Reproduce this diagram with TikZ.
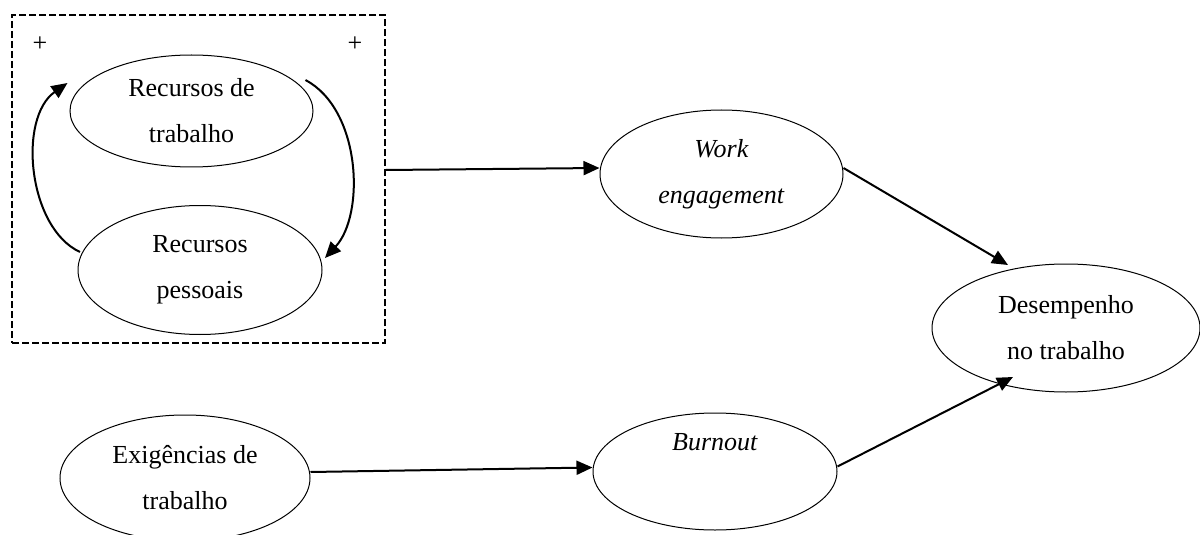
\documentclass[tikz,border=0pt]{standalone}
\usepackage{fontspec}
\setmainfont{Liberation Serif}
\usetikzlibrary{shapes.geometric,arrows.meta,calc}

\tikzset{
  blob/.style={ellipse, draw, line width=0.5pt, inner sep=0pt, align=center,
               font=\fontsize{13}{23}\selectfont},
  arr/.style={line width=1pt, -{Triangle[length=8pt,width=7pt]}},
  groupbox/.style={draw, line width=0.9pt, dash pattern=on 3.5pt off 1.5pt,
                   minimum width=186.5pt, minimum height=164pt, inner sep=0pt},
  sign/.style={font=\fontsize{13}{15}\selectfont, inner sep=0pt}
}

\begin{document}
\begin{tikzpicture}[x=0.5pt, y=-0.5pt]
  \useasboundingbox (0,0) rectangle (1200,535);

  % resources group
  \node[groupbox] (grp) at (198.5,179) {};
  \node[sign] (plusL) at (40,44) {+};
  \node[sign] (plusR) at (355,44) {+};

  \node[blob, minimum width=121.5pt, minimum height=56pt] (rt) at (191.5,111)
    {Recursos de\\trabalho};
  \node[blob, minimum width=122pt, minimum height=64.5pt] (rp) at (200,270)
    {Recursos\\pessoais};

  % outcomes
  \node[blob, minimum width=121.5pt, minimum height=64pt] (we) at (721.5,174)
    {\textit{Work}\\\textit{engagement}};
  \node[blob, minimum width=134pt, minimum height=64pt] (des) at (1066,328)
    {Desempenho\\no trabalho};
  \node[blob, minimum width=125pt, minimum height=63pt] (exi) at (185,478)
    {Exigências de\\trabalho};
  \node[blob, minimum width=122pt, minimum height=58.5pt] (bur) at (715,471.5)
    {\textit{Burnout}\\\strut};

  % reciprocal loop between the two resources
  \draw[arr] ($(rp.center)+(-120,-18)$)
    .. controls ($(rp.center)+(-172,-42)$) and ($(rt.center)+(-174,7)$)
    .. ($(rt.center)+(-124,-28)$);
  \draw[arr] ($(rt.center)+(114,-31)$)
    .. controls ($(rt.center)+(170,-1)$) and ($(rp.center)+(165,-55)$)
    .. ($(rp.center)+(125,-12)$);

  % main paths
  \draw[arr] ([yshift=4.5pt]grp.east) -- ([yshift=3pt]we.west);
  \draw[arr] ([yshift=3pt]we.east) -- ($(des.center)+(-58,-63)$);
  \draw[arr] ([yshift=3pt]exi.east) -- ([yshift=2pt]bur.west);
  \draw[arr] ([yshift=2.5pt]bur.east) -- ($(des.center)+(-53,49)$);
\end{tikzpicture}
\end{document}
